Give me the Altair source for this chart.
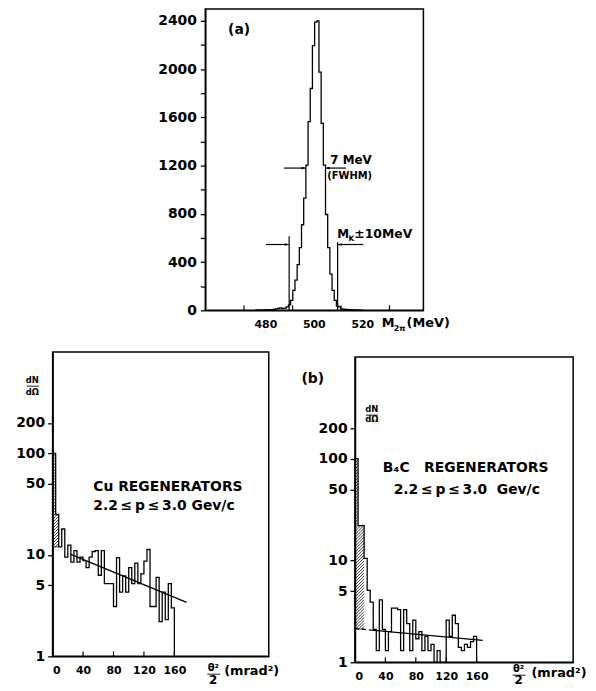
import altair as alt
import numpy as np
import pandas as pd

FONT = "DejaVu Sans"

# ================= data : panel (a) =================
mass_first_edge = 474.8      # MeV, left edge of first histogram bin
mass_bin_width = 0.9         # MeV
mass_counts = [2, 3, 2, 4, 3, 5, 4, 6, 8, 12, 16, 20, 14, 18, 28, 45, 82, 165, 250, 380,
               520, 710, 930, 1205, 1565, 1840, 2195,
               2390, 2400,
               1975, 1550, 1205, 795, 520, 300, 165, 82, 35, 28, 12, 10, 8, 6, 5, 4, 3, 3, 2, 2]
mass_label_ticks = [480, 500, 520]
mass_minor_ticks = [470, 490, 510, 530]
count_ticks = [0, 200, 400, 600, 800, 1000, 1200, 1400, 1600, 1800, 2000, 2200, 2400]
mk_lines = [488.6, 508.6]
mk_line_tops = [615, 565]
arrow_tail = [486.4, 512.0, 479.0, 519.2]
arrow_tip = [495.3, 503.8, 488.4, 508.8]
arrow_level = [1180, 1180, 546, 546]
note_text = ["(a)", "7 MeV", "(FWHM)", "M", "K", "±10MeV"]
note_x = [463.4, 505.6, 504.3, 508.4, 513.1, 515.5]
note_y = [2290, 1211, 1090, 601, 575, 601]
note_size = [14, 12, 10, 12, 7.5, 12.5]

# ================= data : panel (b) =================
theta_bin_width = 4
theta_ticks = [0, 40, 80, 120, 160]
dn_ticks = [1, 5, 10, 50, 100, 200]
cu_counts = [100, 25, 12, 18, 9.5, 12.5, 8.5, 11, 8.5, 9.5, 8.8, 7.5, 9.5, 10.8, 11, 6.3,
             11, 5.2, 5.2, 5.2, 3.1, 9.4, 4.3, 6.2, 4.3, 7.5, 5.2, 8.3, 5.2, 6.5,
             8.7, 11.3, 3.1, 3.1, 6.0, 2.2, 4.3, 2.3, 5.2, 3.0]
cu_hatch_bins = 2
cu_hatch_floor = 12
cu_fit_u = [24, 176]
cu_fit_v = [10.1, 3.4]
b4c_counts = [100, 22, 22, 10.5, 5.1, 3.9, 2.1, 1.3, 4.1, 2.1, 1.3, 2.0, 3.4, 3.4, 3.3, 1.3,
              3.3, 2.4, 1.3, 2.6, 1.7, 2.0, 1.3, 1.8, 1.3, 1.5, 1.0, 1.3, 1.0, 1.0,
              2.6, 1.8, 2.9, 2.4, 1.4, 1.3, 1.5, 1.4, 1.6, 1.8]
b4c_hatch_bins = 3
b4c_hatch_floor = 2.12
b4c_dash_u = [0, 22]
b4c_dash_v = [2.15, 2.07]
b4c_fit_u = [22, 168]
b4c_fit_v = [2.07, 1.64]

one = pd.DataFrame({"z": [0]})
NB = "\u00a0"
TH = "\u2009"


def step_frame(first_edge, width, counts, base):
    n = len(counts)
    edges = [first_edge + width * i for i in range(n + 1)]
    xs = [edges[0]] + edges[:n] + [edges[n], edges[n]]
    ys = [base] + list(counts) + [counts[-1], base]
    return pd.DataFrame({"x": xs, "y": ys, "i": list(range(len(xs)))})


def hatch_frame(width, tops, floor_v, pxu, pxdec, spacing=3.0):
    rows = []
    yb = np.log10(floor_v) * pxdec
    x_end = width * len(tops) * pxu
    ytop = max(np.log10(t) for t in tops) * pxdec
    c = np.floor((yb - x_end) / spacing) * spacing
    while c <= ytop:
        for i, t in enumerate(tops):
            xa, xb = i * width * pxu, (i + 1) * width * pxu
            yt = np.log10(t) * pxdec
            lo = max(xa, yb - c)
            hi = min(xb, yt - c)
            if hi > lo:
                rows.append({"u": lo / pxu, "v": 10 ** ((lo + c) / pxdec),
                             "u2": hi / pxu, "v2": 10 ** ((hi + c) / pxdec)})
        c += spacing
    return pd.DataFrame(rows)


def ptext(s, x, y, size=14, align="left"):
    return alt.Chart(one).mark_text(text=s, align=align, baseline="alphabetic", font=FONT,
                                    fontSize=size, fontWeight="bold", color="black").encode(
        x=alt.value(x), y=alt.value(y))


def prule(x1, x2, y, w=1.0, color="black"):
    return alt.Chart(one).mark_rule(color=color, strokeWidth=w).encode(
        x=alt.value(x1), x2=alt.value(x2), y=alt.value(y))


# ================= panel (a) =================
W_A, H_A = 220, 304
xs_a = alt.Scale(domain=[454, 544], nice=False, zero=False)
ys_a = alt.Scale(domain=[0, 2500], nice=False)
ax_xa = alt.Axis(values=mass_label_ticks, title=None, ticks=False, labelPadding=8,
                 format="d", labelOverlap=False, labelFontSize=11, labelOffset=-3)
ax_ya = alt.Axis(values=count_ticks, title=None, tickSize=5, labelPadding=4, format="d",
                 labelOverlap=False, labelExpr="datum.value % 400 == 0 ? datum.label : ''")


def XA(f):
    return alt.X(f, scale=xs_a, axis=ax_xa)


def YA(f):
    return alt.Y(f, scale=ys_a, axis=ax_ya)


hist_a = alt.Chart(step_frame(mass_first_edge, mass_bin_width, mass_counts, 0)).mark_line(
    interpolate="step-after", color="black", strokeWidth=1.3).encode(
    x=XA("x:Q"), y=YA("y:Q"), order="i:Q")

ticks_a = alt.Chart(pd.DataFrame({"t": mass_minor_ticks})).mark_rule(color="black", strokeWidth=1.2).encode(
    x=XA("t:Q"), y=alt.value(H_A), y2=alt.value(H_A - 5))

lines_a = alt.Chart(pd.DataFrame({"m": mk_lines, "lo": [0, 0], "hi": mk_line_tops})).mark_rule(
    color="black", strokeWidth=1.2).encode(x=XA("m:Q"), y=YA("lo:Q"), y2="hi:Q")

arr_df = pd.DataFrame({"a": arrow_tail, "b": arrow_tip, "lv": arrow_level,
                       "dir": ["r", "l", "r", "l"]})
arrows_a = alt.Chart(arr_df).mark_rule(color="black", strokeWidth=1.2).encode(
    x=XA("a:Q"), x2="b:Q", y=YA("lv:Q"))
head_r = alt.Chart(arr_df[arr_df["dir"] == "r"]).mark_point(
    shape="M-1,-0.35L0,0L-1,0.35Z", filled=True, color="black", size=60, opacity=1).encode(
    x=XA("b:Q"), y=YA("lv:Q"))
head_l = alt.Chart(arr_df[arr_df["dir"] == "l"]).mark_point(
    shape="M1,-0.35L0,0L1,0.35Z", filled=True, color="black", size=60, opacity=1).encode(
    x=XA("b:Q"), y=YA("lv:Q"))

notes_a = alt.Chart(pd.DataFrame({"t": note_text, "x": note_x, "y": note_y, "s": note_size})).mark_text(
    align="left", baseline="alphabetic", font=FONT, fontWeight="bold", color="black").encode(
    x=XA("x:Q"), y=YA("y:Q"), text="t:N", size=alt.Size("s:Q", scale=None, legend=None))

panel_a = alt.layer(
    hist_a, ticks_a, lines_a, arrows_a, head_r, head_l, notes_a,
    ptext("M", 178, 321, 13), ptext("2π", 190, 325, 8), ptext("(MeV)", 203, 321, 13),
).properties(width=W_A, height=H_A)

spacer = prule(1, 2, 100, 1, "white").properties(
    width=104, height=300, view=alt.ViewBackground(stroke="transparent"))


# ================= panel (b) =================
def regen_panel(counts, hatch_bins, hatch_floor, fits, W, H, xmax, extras):
    xs = alt.Scale(domain=[0, xmax], nice=False, zero=False)
    ys = alt.Scale(type="log", domain=[1, 1000], nice=False)
    axx = alt.Axis(values=theta_ticks, title=None, ticks=False, labelPadding=8, format="d",
                   labelOverlap=False, labelFontSize=11)
    axy = alt.Axis(values=dn_ticks, title=None, tickSize=5, labelPadding=3, format="d",
                   labelOverlap=False)

    def X(f):
        return alt.X(f, scale=xs, axis=axx)

    def Y(f):
        return alt.Y(f, scale=ys, axis=axy)

    hist = alt.Chart(step_frame(0, theta_bin_width, counts, 1)).mark_line(
        interpolate="step-after", color="black", strokeWidth=1.3).encode(
        x=X("x:Q"), y=Y("y:Q"), order="i:Q")
    hf = hatch_frame(theta_bin_width, counts[:hatch_bins], hatch_floor, W / xmax, H / 3.0)
    hatch = alt.Chart(hf).mark_rule(color="black", strokeWidth=0.8).encode(
        x=X("u:Q"), x2="u2:Q", y=Y("v:Q"), y2="v2:Q")
    floor_df = pd.DataFrame({"u": [0, theta_bin_width * hatch_bins], "v": [hatch_floor, hatch_floor]})
    floor_line = alt.Chart(floor_df).mark_line(color="black", strokeWidth=0.8).encode(
        x=X("u:Q"), y=Y("v:Q"))
    layers = [hist, hatch, floor_line]
    for fu, fv, dash in fits:
        fd = pd.DataFrame({"u": fu, "v": fv})
        if dash:
            m = alt.Chart(fd).mark_line(color="black", strokeWidth=1.2, strokeDash=[4, 3])
        else:
            m = alt.Chart(fd).mark_line(color="black", strokeWidth=1.4)
        layers.append(m.encode(x=X("u:Q"), y=Y("v:Q")))
    tk = alt.Chart(pd.DataFrame({"t": theta_ticks[1:]})).mark_rule(color="black", strokeWidth=1.2).encode(
        x=X("t:Q"), y=alt.value(H), y2=alt.value(H - 5))
    layers.append(tk)
    layers += extras
    return alt.layer(*layers).properties(width=W, height=H)


W_CU, H_CU = 218, 307
cu_extras = [
    ptext("Cu REGENERATORS", 41, 140, 14),
    ptext("2.2" + TH + "≤" + TH + "p" + TH + "≤" + TH + "3.0" + NB + "Gev/c", 41, 159, 14),
    ptext("dN", -20.5, 31.5, 8.5, "center"), prule(-26, -14, 34.5, 0.9), ptext("dΩ", -20.5, 43, 8.5, "center"),
    ptext("θ²", 162, 322, 10, "center"), prule(156, 169, 325, 0.9), ptext("2", 162, 335, 12, "center"),
    ptext("(mrad²)", 173, 326, 13),
]
panel_cu = regen_panel(cu_counts, cu_hatch_bins, cu_hatch_floor,
                       [(cu_fit_u, cu_fit_v, False)], W_CU, H_CU, 284, cu_extras)

W_B, H_B = 220, 308
b4c_extras = [
    ptext("(b)", -54, 26, 14),
    ptext("dN", 17, 56, 8.5, "center"), prule(11, 23, 58.7, 0.9), ptext("dΩ", 17, 66, 8.5, "center"),
    ptext("B₄C" + NB * 3 + "REGENERATORS", 28, 116, 14),
    ptext("2.2" + TH + "≤" + TH + "p" + TH + "≤" + TH + "3.0" + NB + NB + "Gev/c", 39, 138, 14),
    ptext("θ²", 165, 318, 10, "center"), prule(159, 172, 321, 0.9), ptext("2", 165, 330, 12, "center"),
    ptext("(mrad²)", 178, 323, 13),
]
panel_b4c = regen_panel(b4c_counts, b4c_hatch_bins, b4c_hatch_floor,
                        [(b4c_dash_u, b4c_dash_v, True), (b4c_fit_u, b4c_fit_v, False)],
                        W_B, H_B, 287, b4c_extras)

b4c_spacer = prule(1, 2, 0, 1, "white").properties(
    width=W_B, height=1, view=alt.ViewBackground(stroke="transparent"))
b4c_col = alt.vconcat(b4c_spacer, panel_b4c, spacing=2)

top_row = alt.hconcat(spacer, panel_a, spacing=0)
bottom_row = alt.hconcat(panel_cu, b4c_col, spacing=20)

chart = alt.vconcat(top_row, bottom_row, spacing=16).properties(
    padding={"left": 7, "top": -3, "right": 0, "bottom": 0},
    background="white",
).configure_view(stroke="black", strokeWidth=1.5).configure_axis(
    domainColor="black", domainWidth=1.5, tickColor="black", tickWidth=1.3,
    labelFont=FONT, labelFontSize=14, labelFontWeight="bold", labelColor="black", grid=False)

chart.save("out.html", embed_options={"renderer": "svg", "actions": False})
